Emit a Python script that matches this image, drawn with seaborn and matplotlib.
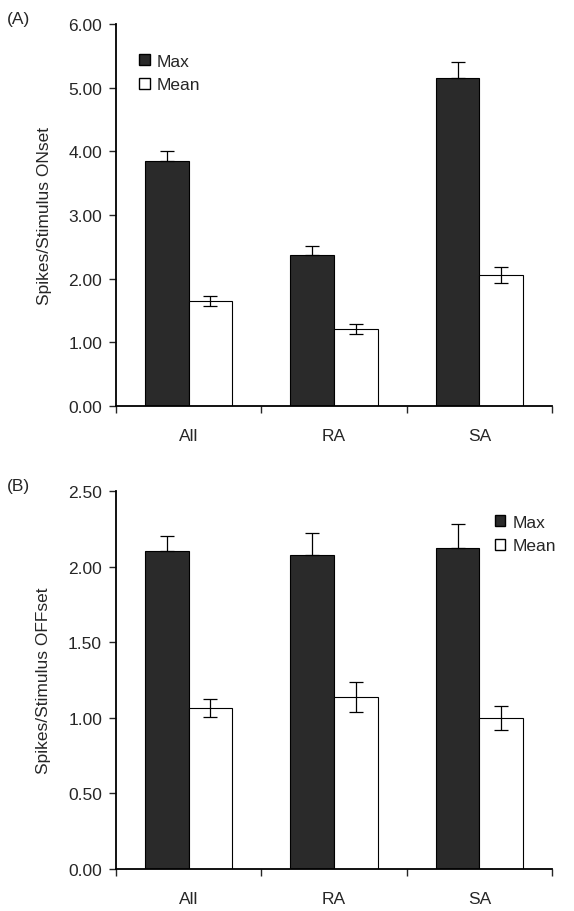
import matplotlib
matplotlib.use("Agg")
import matplotlib.pyplot as plt
import seaborn as sns
import pandas as pd
import numpy as np
from matplotlib.patches import Patch

categories = ["All", "RA", "SA"]
series = ["Max", "Mean"]
on_max = [3.85, 2.37, 5.15]
on_max_err = [0.16, 0.14, 0.26]
on_mean = [1.65, 1.21, 2.06]
on_mean_err = [0.08, 0.08, 0.12]
off_max = [2.10, 2.08, 2.12]
off_max_err = [0.10, 0.14, 0.16]
off_mean = [1.065, 1.14, 1.00]
off_mean_err = [0.06, 0.10, 0.08]
on_yticks = [0, 1, 2, 3, 4, 5, 6]
off_yticks = [0, 0.5, 1.0, 1.5, 2.0, 2.5]

sns.set_theme(style="ticks")
plt.rcParams['font.family'] = ['Liberation Sans', 'DejaVu Sans']

fig = plt.figure(figsize=(5.74, 9.12), dpi=100)
axA = fig.add_axes([0.202, 0.5537, 0.760, 0.4189])
axB = fig.add_axes([0.202, 0.0461, 0.760, 0.4144])

colors = {"Max": "#2a2a2a", "Mean": "#ffffff"}
FS = 12.5

def panel(ax, mx, mxe, mn, mne, yticks, ylabel, letter, legend_pos):
    df = pd.DataFrame({
        "cat": categories * 2,
        "series": ["Max"] * 3 + ["Mean"] * 3,
        "val": list(mx) + list(mn),
    })
    sns.barplot(data=df, x="cat", y="val", hue="series", order=categories,
                hue_order=series, palette=colors, width=0.6, gap=0,
                edgecolor="black", linewidth=0.8, errorbar=None, ax=ax,
                legend=False)
    bars = [p for p in ax.patches][:6]
    xs = [p.get_x() + p.get_width() / 2 for p in bars]
    ax.errorbar(xs[:3], mx, yerr=[np.zeros(3), mxe], fmt="none", ecolor="black",
                elinewidth=0.9, capsize=5, capthick=0.9, zorder=5)
    ax.errorbar(xs[3:], mn, yerr=mne, fmt="none", ecolor="black",
                elinewidth=0.9, capsize=5, capthick=0.9, zorder=5)
    ax.set_xlim(-0.5, 2.5)
    ax.set_ylim(yticks[0], yticks[-1])
    ax.set_yticks(yticks)
    ax.set_yticklabels([f"{t:.2f}" for t in yticks], fontsize=FS)
    ax.set_xticks([-0.5, 0.5, 1.5, 2.5])
    ax.set_xticklabels([])
    ax.set_xticks([0, 1, 2], minor=True)
    ax.set_xticklabels(categories, minor=True, fontsize=FS)
    ax.tick_params(axis="x", which="minor", length=0, pad=16)
    ax.tick_params(axis="x", which="major", length=5, width=1, direction="out")
    ax.tick_params(axis="y", length=5, width=1, direction="out", pad=5)
    ax.set_xlabel("")
    ax.set_ylabel(ylabel, fontsize=FS, labelpad=12)
    for s in ["top", "right"]:
        ax.spines[s].set_visible(False)
    for s in ["left", "bottom"]:
        ax.spines[s].set_linewidth(1.3)
        ax.spines[s].set_color("black")
    handles = [Patch(facecolor=colors[s], edgecolor="black", label=s) for s in series]
    ax.legend(handles=handles, loc="upper left", bbox_to_anchor=legend_pos,
              frameon=False, fontsize=FS, handlelength=0.6, handleheight=0.6,
              handletextpad=0.4, labelspacing=0.5, borderaxespad=0.2)
    ax.text(-0.25, 1.035, letter, transform=ax.transAxes, fontsize=FS,
            ha="left", va="top")

panel(axA, on_max, on_max_err, on_mean, on_mean_err, on_yticks,
      "Spikes/Stimulus ONset", "(A)", (0.03, 0.95))
panel(axB, off_max, off_max_err, off_mean, off_mean_err, off_yticks,
      "Spikes/Stimulus OFFset", "(B)", (0.845, 0.965))

fig.savefig("out.png", dpi=100, facecolor="white")
